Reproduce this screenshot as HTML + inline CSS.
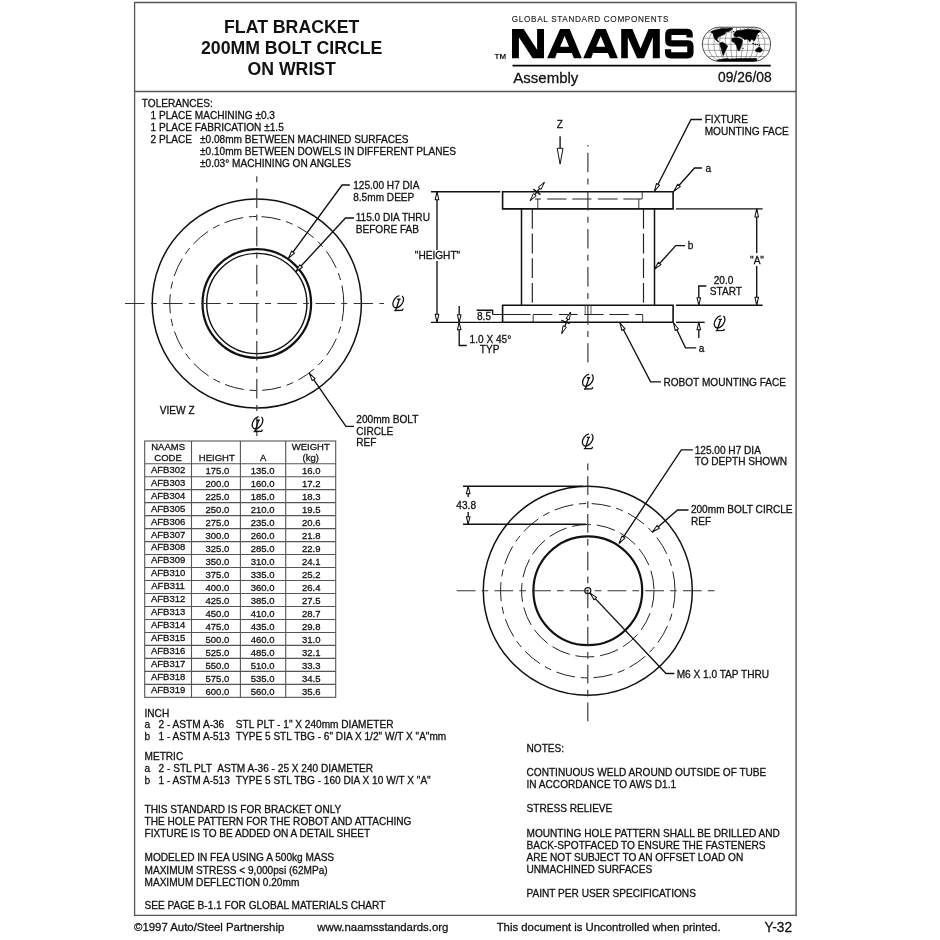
<!DOCTYPE html>
<html><head><meta charset="utf-8"><style>
html,body{margin:0;padding:0;background:#fff;}
svg{display:block;will-change:transform;}
text{font-family:"Liberation Sans", sans-serif;}
text.r{stroke:#111;stroke-width:0.28px;}
</style></head><body>
<svg width="940" height="940" viewBox="0 0 940 940">
<rect width="940" height="940" fill="#fff"/>
<line x1="134.5" y1="2.5" x2="796.5" y2="2.5" stroke="#555" stroke-width="1.3"/>
<line x1="134.6" y1="1.9" x2="134.6" y2="915.9" stroke="#555" stroke-width="1.3"/>
<line x1="796.1" y1="1.9" x2="796.1" y2="915.9" stroke="#777" stroke-width="1.8"/>
<line x1="134" y1="915.3" x2="797" y2="915.3" stroke="#555" stroke-width="1.3"/>
<line x1="134.5" y1="91.5" x2="796.5" y2="91.5" stroke="#555" stroke-width="1.3" stroke-linecap="butt"/>
<text x="291.7" y="32.9" font-size="17.7" text-anchor="middle" font-weight="bold" fill="#111"  xml:space="preserve">FLAT BRACKET</text>
<text x="291.7" y="53.5" font-size="17.7" text-anchor="middle" font-weight="bold" fill="#111"  xml:space="preserve">200MM BOLT CIRCLE</text>
<text x="291.7" y="74.9" font-size="17.7" text-anchor="middle" font-weight="bold" fill="#111"  xml:space="preserve">ON WRIST</text>
<text x="511.8" y="21.6" font-size="8.2" text-anchor="start" font-weight="normal" fill="#1a1a1a" textLength="156.6" lengthAdjust="spacing" class="n" stroke="#1a1a1a" stroke-width="0.12" xml:space="preserve">GLOBAL STANDARD COMPONENTS</text>
<path d="M512,58.2 L512,29 L523.7,29 L537.1,49.8 L537.1,29 L544,29 L544,58.2 L532.6,58.2 L518.9,37.2 L518.9,58.2 Z M547.1,58.2 L560.1,29 L569.7,29 L581.8,58.2 L573.9,58.2 L571.8,52.9 L556.9,52.9 L555.1,58.2 Z M560.1,46.8 L569.1,46.8 L564.6,35.9 Z M583.2,58.2 L596.2,29 L605.8,29 L617.9,58.2 L610.0,58.2 L607.9,52.9 L593.0,52.9 L591.2,58.2 Z M596.2,46.8 L605.2,46.8 L600.7,35.9 Z M621.2,58.2 L621.2,29 L632.4,29 L640.5,48.4 L648.6,29 L659.8,29 L659.8,58.2 L652.8,58.2 L652.8,37.2 L644.1,58.2 L637.1,58.2 L627.8,37.2 L627.8,58.2 Z" fill="#000" fill-rule="evenodd"/>
<path d="M689.6,37.6 L689.6,34.6 Q689.6,31.8 686.8,31.8 L671.2,31.8 Q668.3,31.8 668.3,34.6 L668.3,40.6 Q668.3,43.4 671.1,43.4 L687.5,43.4 Q690.4,43.4 690.4,46.2 L690.4,52.6 Q690.4,55.3 687.6,55.3 L670.9,55.3 Q668.1,55.3 668.1,52.6 L668.1,49.3" fill="none" stroke="#000" stroke-width="6.3"/>
<text x="494.5" y="58.8" font-size="8.0" text-anchor="start" font-weight="bold" fill="#111"  xml:space="preserve">TM</text>
<line x1="512.5" y1="65.7" x2="770.7" y2="65.7" stroke="#000" stroke-width="1.8" stroke-linecap="butt"/>
<text x="513.3" y="83" font-size="15" text-anchor="start" font-weight="normal" fill="#111"  class="r" xml:space="preserve">Assembly</text>
<text x="771.7" y="81.7" font-size="13.8" text-anchor="end" font-weight="normal" fill="#111"  class="r" xml:space="preserve">09/26/08</text>
<clipPath id="gclip"><path d="M719.5,27.199999999999996 L753.5,27.199999999999996 A17.1,17.1 0 0 1 753.5,61.4 L719.5,61.4 A17.1,17.1 0 0 1 719.5,27.199999999999996 Z"/></clipPath><g clip-path="url(#gclip)"><line x1="700" y1="32.1" x2="773" y2="32.1" stroke="#555" stroke-width="0.5"/><line x1="700" y1="38.2" x2="773" y2="38.2" stroke="#555" stroke-width="0.5"/><line x1="700" y1="44.3" x2="773" y2="44.3" stroke="#555" stroke-width="0.5"/><line x1="700" y1="50.4" x2="773" y2="50.4" stroke="#555" stroke-width="0.5"/><line x1="700" y1="56.5" x2="773" y2="56.5" stroke="#555" stroke-width="0.5"/><path d="M722.33,27.199999999999996 A14.17,17.1 0 0 0 708.17,44.3 A14.17,17.1 0 0 0 722.33,61.4" stroke="#555" stroke-width="0.5" fill="none"/><path d="M725.17,27.199999999999996 A11.33,17.1 0 0 0 713.83,44.3 A11.33,17.1 0 0 0 725.17,61.4" stroke="#555" stroke-width="0.5" fill="none"/><path d="M728.00,27.199999999999996 A8.50,17.1 0 0 0 719.50,44.3 A8.50,17.1 0 0 0 728.00,61.4" stroke="#555" stroke-width="0.5" fill="none"/><path d="M730.83,27.199999999999996 A5.67,17.1 0 0 0 725.17,44.3 A5.67,17.1 0 0 0 730.83,61.4" stroke="#555" stroke-width="0.5" fill="none"/><path d="M733.67,27.199999999999996 A2.83,17.1 0 0 0 730.83,44.3 A2.83,17.1 0 0 0 733.67,61.4" stroke="#555" stroke-width="0.5" fill="none"/><line x1="736.5" y1="27.199999999999996" x2="736.5" y2="61.4" stroke="#555" stroke-width="0.5"/><path d="M739.33,27.199999999999996 A2.83,17.1 0 0 1 742.17,44.3 A2.83,17.1 0 0 1 739.33,61.4" stroke="#555" stroke-width="0.5" fill="none"/><path d="M742.17,27.199999999999996 A5.67,17.1 0 0 1 747.83,44.3 A5.67,17.1 0 0 1 742.17,61.4" stroke="#555" stroke-width="0.5" fill="none"/><path d="M745.00,27.199999999999996 A8.50,17.1 0 0 1 753.50,44.3 A8.50,17.1 0 0 1 745.00,61.4" stroke="#555" stroke-width="0.5" fill="none"/><path d="M747.83,27.199999999999996 A11.33,17.1 0 0 1 759.17,44.3 A11.33,17.1 0 0 1 747.83,61.4" stroke="#555" stroke-width="0.5" fill="none"/><path d="M750.67,27.199999999999996 A14.17,17.1 0 0 1 764.83,44.3 A14.17,17.1 0 0 1 750.67,61.4" stroke="#555" stroke-width="0.5" fill="none"/><path d="M710.7,31.9 L713.2,30.6 L716.9,29.7 L719.9,29.1 L722.8,28.5 L725.8,28.7 L727.7,28.4 L730.3,28.1 L732.6,28.4 L731.8,29.5 L729.6,31.0 L728.4,31.5 L725.8,31.7 L725.1,33.9 L723.6,34.7 L721.7,35.4 L719.9,36.2 L717.6,37.7 L716.9,39.1 L717.6,40.3 L718.8,41.4 L718.4,42.1 L716.1,40.3 L714.7,38.4 L713.5,36.2 L713.2,33.9 L711.7,32.4 Z" fill="#000" stroke="#000" stroke-width="0.6" stroke-linejoin="round"/><path d="M719.7,42.9 L722.6,42.3 L725.5,44.1 L727.6,45.9 L726.7,48.2 L725.0,51.1 L723.8,54.6 L723.2,55.6 L722.3,52.9 L721.4,48.8 L720.3,45.9 Z" fill="#000" stroke="#000" stroke-width="0.6" stroke-linejoin="round"/><path d="M733.6,34.8 L734.5,33.0 L736.7,30.8 L738.9,30.4 L743.4,29.9 L747.9,29.2 L752.3,29.7 L756.8,30.1 L760.8,30.8 L759.5,32.1 L757.7,33.0 L756.8,35.3 L755.9,37.5 L755.0,39.7 L754.1,41.1 L753.2,39.7 L751.4,39.3 L749.7,42.0 L748.8,40.2 L747.0,38.9 L744.7,39.7 L743.4,38.4 L741.2,36.9 L738.9,36.6 L736.7,36.9 L734.5,36.4 Z" fill="#000" stroke="#000" stroke-width="0.6" stroke-linejoin="round"/><path d="M731.8,38.6 L734.5,37.7 L738.9,38.2 L741.6,39.3 L742.5,41.0 L741.9,43.5 L740.7,47.6 L739.0,51.1 L737.8,49.9 L736.7,45.9 L734.3,42.6 L731.9,41.4 Z" fill="#000" stroke="#000" stroke-width="0.6" stroke-linejoin="round"/><path d="M755.4,49.9 L757.1,48.2 L759.5,47.0 L761.8,48.8 L762.4,50.5 L760.1,52.3 L757.7,51.7 L756.0,51.7 Z" fill="#000" stroke="#000" stroke-width="0.6" stroke-linejoin="round"/><path d="M716.5,61.8 L717.3,59.9 L722,59.2 L726.1,58.6 L730,59.0 L740,58.5 L750,58.4 L756.5,58.6 L757,61.8 Z" fill="#000" stroke="#000" stroke-width="0.6" stroke-linejoin="round"/><circle cx="753.1" cy="43.6" r="0.8" fill="#000"/><circle cx="755.2" cy="44.4" r="0.8" fill="#000"/><circle cx="757.4" cy="44.5" r="0.7" fill="#000"/><circle cx="759.5" cy="45.3" r="0.7" fill="#000"/><circle cx="743.1" cy="48.3" r="0.6" fill="#000"/><circle cx="758.6" cy="35.6" r="0.6" fill="#000"/><circle cx="733.6" cy="31.6" r="0.7" fill="#000"/></g><path d="M719.5,27.199999999999996 L753.5,27.199999999999996 A17.1,17.1 0 0 1 753.5,61.4 L719.5,61.4 A17.1,17.1 0 0 1 719.5,27.199999999999996 Z" fill="none" stroke="#222" stroke-width="0.8"/>
<text x="141.8" y="106.5" font-size="10.1" text-anchor="start" font-weight="normal" fill="#111"  class="r" xml:space="preserve">TOLERANCES:</text>
<text x="150.5" y="118.6" font-size="10.1" text-anchor="start" font-weight="normal" fill="#111"  class="r" xml:space="preserve">1 PLACE MACHINING ±0.3</text>
<text x="150.5" y="130.7" font-size="10.1" text-anchor="start" font-weight="normal" fill="#111"  class="r" xml:space="preserve">1 PLACE FABRICATION ±1.5</text>
<text x="150.5" y="142.8" font-size="10.1" text-anchor="start" font-weight="normal" fill="#111"  class="r" xml:space="preserve">2 PLACE</text>
<text x="200" y="142.8" font-size="10.1" text-anchor="start" font-weight="normal" fill="#111"  class="r" xml:space="preserve">±0.08mm BETWEEN MACHINED SURFACES</text>
<text x="200" y="154.9" font-size="10.1" text-anchor="start" font-weight="normal" fill="#111"  class="r" xml:space="preserve">±0.10mm BETWEEN DOWELS IN DIFFERENT PLANES</text>
<text x="200" y="167.0" font-size="10.1" text-anchor="start" font-weight="normal" fill="#111"  class="r" xml:space="preserve">±0.03° MACHINING ON ANGLES</text>
<circle cx="256.8" cy="303.5" r="104.6" stroke="#111" stroke-width="1.5" fill="none"/>
<circle cx="256.8" cy="303.5" r="87.0" stroke="#222" stroke-width="1.0" fill="none" stroke-dasharray="19.2,5.7,7.2,5.7" stroke-dashoffset="1.6"/>
<circle cx="256.8" cy="303.5" r="54.3" stroke="#111" stroke-width="2.2" fill="none"/>
<circle cx="256.8" cy="303.5" r="50.1" stroke="#111" stroke-width="1.4" fill="none"/>
<line x1="125" y1="303.5" x2="384" y2="303.5" stroke="#333" stroke-width="1.15" stroke-linecap="butt" stroke-dasharray="19.5,6.3,6,6.3" stroke-dashoffset="0"/>
<line x1="256.8" y1="176.3" x2="256.8" y2="436" stroke="#333" stroke-width="1.15" stroke-linecap="butt" stroke-dasharray="19.5,6.3,6,6.3" stroke-dashoffset="25.8"/>
<g transform="translate(392.6,295.5) scale(1.0)" fill="none" stroke="#111"><ellipse cx="5.6" cy="6.15" rx="4.4" ry="6.9" transform="rotate(35 5.6 6.15)" stroke-dasharray="23.7,2.8,20" stroke-width="1.3"/><path d="M4.6,3.7 L7.9,3.7 M6.7,3.7 L3.1,14.9 M1.7,15.0 L9.6,14.8 Q10.2,14.4 10.4,13.2" stroke-width="1.35"/></g>
<g transform="translate(251.9,416.5) scale(1.0)" fill="none" stroke="#111"><ellipse cx="5.6" cy="6.15" rx="4.4" ry="6.9" transform="rotate(35 5.6 6.15)" stroke-dasharray="23.7,2.8,20" stroke-width="1.3"/><path d="M4.6,3.7 L7.9,3.7 M6.7,3.7 L3.1,14.9 M1.7,15.0 L9.6,14.8 Q10.2,14.4 10.4,13.2" stroke-width="1.35"/></g>
<text x="159.8" y="413.8" font-size="10.1" text-anchor="start" font-weight="normal" fill="#111"  class="r" xml:space="preserve">VIEW Z</text>
<path d="M349.8,185 L342.1,185 L288.6,258.1" stroke="#111" stroke-width="1.35" fill="none" stroke-linejoin="miter"/>
<path d="M291.58,250.98 L288.60,258.10 L294.48,253.11 Z" stroke="#111" stroke-width="1.05" fill="#fff" stroke-linejoin="round"/>
<text x="353.2" y="189.1" font-size="10.1" text-anchor="start" font-weight="normal" fill="#111"  class="r" xml:space="preserve">125.00 H7 DIA</text>
<text x="353.2" y="200.6" font-size="10.1" text-anchor="start" font-weight="normal" fill="#111"  class="r" xml:space="preserve">8.5mm DEEP</text>
<path d="M354,218 L345.5,218 L296,271.5" stroke="#111" stroke-width="1.35" fill="none" stroke-linejoin="miter"/>
<path d="M299.77,264.77 L296.00,271.50 L302.41,267.22 Z" stroke="#111" stroke-width="1.05" fill="#fff" stroke-linejoin="round"/>
<text x="355.7" y="221.4" font-size="10.1" text-anchor="start" font-weight="normal" fill="#111"  class="r" xml:space="preserve">115.0 DIA THRU</text>
<text x="355.7" y="233" font-size="10.1" text-anchor="start" font-weight="normal" fill="#111"  class="r" xml:space="preserve">BEFORE FAB</text>
<path d="M354,426.3 L345.9,426.3 L309.4,373.4" stroke="#111" stroke-width="1.35" fill="none" stroke-linejoin="miter"/>
<path d="M315.14,378.55 L309.40,373.40 L312.18,380.60 Z" stroke="#111" stroke-width="1.05" fill="#fff" stroke-linejoin="round"/>
<text x="356.3" y="422.6" font-size="10.1" text-anchor="start" font-weight="normal" fill="#111"  class="r" xml:space="preserve">200mm BOLT</text>
<text x="356.3" y="434.5" font-size="10.1" text-anchor="start" font-weight="normal" fill="#111"  class="r" xml:space="preserve">CIRCLE</text>
<text x="356.3" y="446" font-size="10.1" text-anchor="start" font-weight="normal" fill="#111"  class="r" xml:space="preserve">REF</text>
<path d="M502.6,191.7 L673.1,191.7 L673.1,208.9 L502.6,208.9 Z" stroke="#111" stroke-width="1.6" fill="none" stroke-linejoin="miter"/>
<path d="M502.6,305.2 L673.1,305.2 L673.1,322.3 L502.6,322.3 Z" stroke="#111" stroke-width="1.6" fill="none" stroke-linejoin="miter"/>
<line x1="521.5" y1="208.9" x2="521.5" y2="305.2" stroke="#111" stroke-width="1.5" stroke-linecap="butt"/>
<line x1="654.5" y1="208.9" x2="654.5" y2="305.2" stroke="#111" stroke-width="1.5" stroke-linecap="butt"/>
<line x1="532.3" y1="208.9" x2="532.3" y2="305.2" stroke="#222" stroke-width="1.15" stroke-linecap="butt" stroke-dasharray="19.8,4.9" stroke-dashoffset="0"/>
<line x1="643.5" y1="208.9" x2="643.5" y2="305.2" stroke="#222" stroke-width="1.15" stroke-linecap="butt" stroke-dasharray="19.8,4.9" stroke-dashoffset="0"/>
<line x1="587.9" y1="145" x2="587.9" y2="362.4" stroke="#333" stroke-width="1.15" stroke-linecap="butt" stroke-dasharray="19.5,6.3,6,6.3" stroke-dashoffset="30.3"/>
<line x1="535.1" y1="199" x2="642.3" y2="199" stroke="#222" stroke-width="1.15" stroke-linecap="butt" stroke-dasharray="5.8,6.3,19.2,5.9,19.2,6.4,19.8,5.7,18.5,10" stroke-dashoffset="0"/>
<line x1="537.8" y1="199" x2="537.8" y2="208.9" stroke="#222" stroke-width="0.9" stroke-linecap="butt"/>
<line x1="642.2" y1="191.7" x2="642.2" y2="199" stroke="#222" stroke-width="0.9" stroke-linecap="butt"/>
<line x1="638.8" y1="199" x2="638.8" y2="208.9" stroke="#222" stroke-width="0.9" stroke-linecap="butt"/>
<line x1="492.6" y1="314.5" x2="530.5" y2="314.5" stroke="#222" stroke-width="1.0" stroke-linecap="butt"/>
<line x1="533.2" y1="314.5" x2="642.7" y2="314.5" stroke="#222" stroke-width="1.15" stroke-linecap="butt" stroke-dasharray="19.1,6.6,18.6,6.7,19.3,5.9,19.3,6.7,7.3,10" stroke-dashoffset="0"/>
<line x1="533.2" y1="314.5" x2="533.2" y2="322.3" stroke="#222" stroke-width="0.9" stroke-linecap="butt"/>
<line x1="642.7" y1="314.5" x2="642.7" y2="322.3" stroke="#222" stroke-width="0.9" stroke-linecap="butt"/>
<line x1="585.2" y1="305.2" x2="585.2" y2="314.5" stroke="#333" stroke-width="0.8" stroke-linecap="butt"/>
<line x1="591" y1="305.2" x2="591" y2="314.5" stroke="#333" stroke-width="0.8" stroke-linecap="butt"/>
<path d="M476.6,310.2 L492.6,310.2 L492.6,314.5" stroke="#111" stroke-width="1.35" fill="none" stroke-linejoin="miter"/>
<text x="477" y="319.7" font-size="10.1" text-anchor="start" font-weight="normal" fill="#111"  class="r" xml:space="preserve">8.5</text>
<line x1="431" y1="191.7" x2="500.3" y2="191.7" stroke="#111" stroke-width="1.35" stroke-linecap="butt"/>
<line x1="431" y1="322.3" x2="502.6" y2="322.3" stroke="#111" stroke-width="1.3" stroke-linecap="butt"/>
<line x1="437" y1="191.7" x2="437" y2="250" stroke="#111" stroke-width="1.35" stroke-linecap="butt"/>
<line x1="437" y1="261" x2="437" y2="322.3" stroke="#111" stroke-width="1.35" stroke-linecap="butt"/>
<path d="M438.80,199.70 L437.00,191.70 L435.20,199.70 Z" stroke="#111" stroke-width="1.05" fill="#fff" stroke-linejoin="round"/>
<path d="M435.20,314.30 L437.00,322.30 L438.80,314.30 Z" stroke="#111" stroke-width="1.05" fill="#fff" stroke-linejoin="round"/>
<text x="437.5" y="258.5" font-size="10.1" text-anchor="middle" font-weight="normal" fill="#111"  class="r" xml:space="preserve">"HEIGHT"</text>
<line x1="459.2" y1="306" x2="459.2" y2="322.3" stroke="#111" stroke-width="1.35" stroke-linecap="butt"/>
<path d="M457.40,314.80 L459.20,322.30 L461.00,314.80 Z" stroke="#111" stroke-width="1.05" fill="#fff" stroke-linejoin="round"/>
<path d="M459.2,322.3 L459.2,345.5 L466.8,345.5" stroke="#111" stroke-width="1.35" fill="none" stroke-linejoin="miter"/>
<path d="M461.00,329.80 L459.20,322.30 L457.40,329.80 Z" stroke="#111" stroke-width="1.05" fill="#fff" stroke-linejoin="round"/>
<text x="469.6" y="343" font-size="10.1" text-anchor="start" font-weight="normal" fill="#111"  class="r" xml:space="preserve">1.0 X 45°</text>
<text x="479.8" y="353.4" font-size="10.1" text-anchor="start" font-weight="normal" fill="#111"  class="r" xml:space="preserve">TYP</text>
<text x="559.8" y="127.7" font-size="10.1" text-anchor="middle" font-weight="normal" fill="#111"  class="r" xml:space="preserve">Z</text>
<line x1="560.1" y1="136.3" x2="560.1" y2="148.3" stroke="#111" stroke-width="1.35" stroke-linecap="butt"/>
<path d="M557.2,148.3 L563,148.3 L560.1,164.1 Z" fill="#fff" stroke="#111" stroke-width="1.0"/>
<line x1="530.2" y1="200.6" x2="544.3" y2="182.4" stroke="#111" stroke-width="1.35" stroke-linecap="butt"/>
<path d="M533.37,193.57 L530.20,200.60 L536.22,195.77 Z" stroke="#111" stroke-width="1.0" fill="#fff" stroke-linejoin="round"/>
<path d="M541.13,189.43 L544.30,182.40 L538.28,187.23 Z" stroke="#111" stroke-width="1.0" fill="#fff" stroke-linejoin="round"/>
<line x1="533.3426591269109" y1="189.14403811480463" x2="540.457340873089" y2="194.65596188519538" stroke="#111" stroke-width="1.4" stroke-linecap="butt"/>
<line x1="561.8" y1="333.4" x2="570.6" y2="312.1" stroke="#111" stroke-width="1.35" stroke-linecap="butt"/>
<path d="M563.00,325.78 L561.80,333.40 L566.33,327.16 Z" stroke="#111" stroke-width="1.0" fill="#fff" stroke-linejoin="round"/>
<path d="M569.40,319.72 L570.60,312.10 L566.07,318.34 Z" stroke="#111" stroke-width="1.0" fill="#fff" stroke-linejoin="round"/>
<line x1="561.3409733717274" y1="320.2817166981784" x2="569.6590266282726" y2="323.7182833018216" stroke="#111" stroke-width="1.4" stroke-linecap="butt"/>
<line x1="676" y1="208.9" x2="762.6" y2="208.9" stroke="#111" stroke-width="1.35" stroke-linecap="butt"/>
<line x1="676" y1="305.2" x2="762.6" y2="305.2" stroke="#111" stroke-width="1.35" stroke-linecap="butt"/>
<line x1="756.7" y1="208.9" x2="756.7" y2="253" stroke="#111" stroke-width="1.35" stroke-linecap="butt"/>
<line x1="756.7" y1="266" x2="756.7" y2="305.2" stroke="#111" stroke-width="1.35" stroke-linecap="butt"/>
<path d="M758.50,216.90 L756.70,208.90 L754.90,216.90 Z" stroke="#111" stroke-width="1.05" fill="#fff" stroke-linejoin="round"/>
<path d="M754.90,297.20 L756.70,305.20 L758.50,297.20 Z" stroke="#111" stroke-width="1.05" fill="#fff" stroke-linejoin="round"/>
<text x="757" y="264.4" font-size="10.1" text-anchor="middle" font-weight="normal" fill="#111"  class="r" xml:space="preserve">"A"</text>
<path d="M706.4,286 L698.8,286 L698.8,305.2" stroke="#111" stroke-width="1.35" fill="none" stroke-linejoin="miter"/>
<path d="M697.00,297.70 L698.80,305.20 L700.60,297.70 Z" stroke="#111" stroke-width="1.05" fill="#fff" stroke-linejoin="round"/>
<text x="723.5" y="283.5" font-size="10.1" text-anchor="middle" font-weight="normal" fill="#111"  class="r" xml:space="preserve">20.0</text>
<text x="725.9" y="294.9" font-size="10.1" text-anchor="middle" font-weight="normal" fill="#111"  class="r" xml:space="preserve">START</text>
<line x1="676" y1="322.3" x2="704.7" y2="322.3" stroke="#111" stroke-width="1.35" stroke-linecap="butt"/>
<line x1="698.8" y1="322.3" x2="698.8" y2="338" stroke="#111" stroke-width="1.35" stroke-linecap="butt"/>
<path d="M700.60,329.80 L698.80,322.30 L697.00,329.80 Z" stroke="#111" stroke-width="1.05" fill="#fff" stroke-linejoin="round"/>
<g transform="translate(714,315.6) scale(1.0)" fill="none" stroke="#111"><ellipse cx="5.6" cy="6.15" rx="4.4" ry="6.9" transform="rotate(35 5.6 6.15)" stroke-dasharray="23.7,2.8,20" stroke-width="1.3"/><path d="M4.6,3.7 L7.9,3.7 M6.7,3.7 L3.1,14.9 M1.7,15.0 L9.6,14.8 Q10.2,14.4 10.4,13.2" stroke-width="1.35"/></g>
<g transform="translate(582.3,374) scale(1.0)" fill="none" stroke="#111"><ellipse cx="5.6" cy="6.15" rx="4.4" ry="6.9" transform="rotate(35 5.6 6.15)" stroke-dasharray="23.7,2.8,20" stroke-width="1.3"/><path d="M4.6,3.7 L7.9,3.7 M6.7,3.7 L3.1,14.9 M1.7,15.0 L9.6,14.8 Q10.2,14.4 10.4,13.2" stroke-width="1.35"/></g>
<path d="M702,119.5 L691,119.5 L654.6,191" stroke="#111" stroke-width="1.35" fill="none" stroke-linejoin="miter"/>
<path d="M656.40,183.50 L654.60,191.00 L659.61,185.13 Z" stroke="#111" stroke-width="1.05" fill="#fff" stroke-linejoin="round"/>
<text x="704.7" y="122.9" font-size="10.1" text-anchor="start" font-weight="normal" fill="#111"  class="r" xml:space="preserve">FIXTURE</text>
<text x="704.7" y="134.8" font-size="10.1" text-anchor="start" font-weight="normal" fill="#111"  class="r" xml:space="preserve">MOUNTING FACE</text>
<path d="M702,168 L694.5,168 L674,191" stroke="#111" stroke-width="1.35" fill="none" stroke-linejoin="miter"/>
<path d="M677.65,184.20 L674.00,191.00 L680.33,186.60 Z" stroke="#111" stroke-width="1.05" fill="#fff" stroke-linejoin="round"/>
<text x="705.5" y="172.2" font-size="10.1" text-anchor="start" font-weight="normal" fill="#111"  class="r" xml:space="preserve">a</text>
<path d="M685.1,245.6 L675.8,245.6 L654.6,269" stroke="#111" stroke-width="1.35" fill="none" stroke-linejoin="miter"/>
<path d="M658.30,262.23 L654.60,269.00 L660.97,264.65 Z" stroke="#111" stroke-width="1.05" fill="#fff" stroke-linejoin="round"/>
<text x="687.7" y="249" font-size="10.1" text-anchor="start" font-weight="normal" fill="#111"  class="r" xml:space="preserve">b</text>
<path d="M620,323 L650.6,381.8 L661,381.8" stroke="#111" stroke-width="1.35" fill="none" stroke-linejoin="miter"/>
<path d="M625.06,328.82 L620.00,323.00 L621.87,330.48 Z" stroke="#111" stroke-width="1.05" fill="#fff" stroke-linejoin="round"/>
<text x="663.4" y="385.9" font-size="10.1" text-anchor="start" font-weight="normal" fill="#111"  class="r" xml:space="preserve">ROBOT MOUNTING FACE</text>
<path d="M673.6,323 L685.5,347.8 L696.2,347.8" stroke="#111" stroke-width="1.35" fill="none" stroke-linejoin="miter"/>
<path d="M678.47,328.98 L673.60,323.00 L675.22,330.54 Z" stroke="#111" stroke-width="1.05" fill="#fff" stroke-linejoin="round"/>
<text x="698.8" y="351.6" font-size="10.1" text-anchor="start" font-weight="normal" fill="#111"  class="r" xml:space="preserve">a</text>
<rect x="144.7" y="441.0" width="191.0" height="256.34000000000003" fill="none" stroke="#555" stroke-width="1.1"/>
<line x1="191.5" y1="441.0" x2="191.5" y2="697.34" stroke="#555" stroke-width="1.1" stroke-linecap="butt"/>
<line x1="240.4" y1="441.0" x2="240.4" y2="697.34" stroke="#555" stroke-width="1.1" stroke-linecap="butt"/>
<line x1="285.7" y1="441.0" x2="285.7" y2="697.34" stroke="#555" stroke-width="1.1" stroke-linecap="butt"/>
<line x1="144.7" y1="463.7" x2="335.7" y2="463.7" stroke="#555" stroke-width="1.1" stroke-linecap="butt"/>
<line x1="144.7" y1="476.68" x2="335.7" y2="476.68" stroke="#555" stroke-width="1.1" stroke-linecap="butt"/>
<line x1="144.7" y1="489.65999999999997" x2="335.7" y2="489.65999999999997" stroke="#555" stroke-width="1.1" stroke-linecap="butt"/>
<line x1="144.7" y1="502.64" x2="335.7" y2="502.64" stroke="#555" stroke-width="1.1" stroke-linecap="butt"/>
<line x1="144.7" y1="515.62" x2="335.7" y2="515.62" stroke="#555" stroke-width="1.1" stroke-linecap="butt"/>
<line x1="144.7" y1="528.6" x2="335.7" y2="528.6" stroke="#555" stroke-width="1.1" stroke-linecap="butt"/>
<line x1="144.7" y1="541.5799999999999" x2="335.7" y2="541.5799999999999" stroke="#555" stroke-width="1.1" stroke-linecap="butt"/>
<line x1="144.7" y1="554.56" x2="335.7" y2="554.56" stroke="#555" stroke-width="1.1" stroke-linecap="butt"/>
<line x1="144.7" y1="567.54" x2="335.7" y2="567.54" stroke="#555" stroke-width="1.1" stroke-linecap="butt"/>
<line x1="144.7" y1="580.52" x2="335.7" y2="580.52" stroke="#555" stroke-width="1.1" stroke-linecap="butt"/>
<line x1="144.7" y1="593.5" x2="335.7" y2="593.5" stroke="#555" stroke-width="1.1" stroke-linecap="butt"/>
<line x1="144.7" y1="606.48" x2="335.7" y2="606.48" stroke="#555" stroke-width="1.1" stroke-linecap="butt"/>
<line x1="144.7" y1="619.46" x2="335.7" y2="619.46" stroke="#555" stroke-width="1.1" stroke-linecap="butt"/>
<line x1="144.7" y1="632.44" x2="335.7" y2="632.44" stroke="#555" stroke-width="1.1" stroke-linecap="butt"/>
<line x1="144.7" y1="645.42" x2="335.7" y2="645.42" stroke="#555" stroke-width="1.1" stroke-linecap="butt"/>
<line x1="144.7" y1="658.4" x2="335.7" y2="658.4" stroke="#555" stroke-width="1.1" stroke-linecap="butt"/>
<line x1="144.7" y1="671.38" x2="335.7" y2="671.38" stroke="#555" stroke-width="1.1" stroke-linecap="butt"/>
<line x1="144.7" y1="684.36" x2="335.7" y2="684.36" stroke="#555" stroke-width="1.1" stroke-linecap="butt"/>
<text x="168.1" y="450.3" font-size="9.5" text-anchor="middle" font-weight="normal" fill="#111"  class="r" xml:space="preserve">NAAMS</text>
<text x="168.1" y="461.2" font-size="9.5" text-anchor="middle" font-weight="normal" fill="#111"  class="r" xml:space="preserve">CODE</text>
<text x="216.75" y="461.4" font-size="9.5" text-anchor="middle" font-weight="normal" fill="#111"  class="r" xml:space="preserve">HEIGHT</text>
<text x="263.05" y="461.4" font-size="9.5" text-anchor="middle" font-weight="normal" fill="#111"  class="r" xml:space="preserve">A</text>
<text x="310.7" y="450.3" font-size="9.5" text-anchor="middle" font-weight="normal" fill="#111"  class="r" xml:space="preserve">WEIGHT</text>
<text x="310.7" y="461.4" font-size="9.5" text-anchor="middle" font-weight="normal" fill="#111"  class="r" xml:space="preserve">(kg)</text>
<text x="168.1" y="472.59999999999997" font-size="9.5" text-anchor="middle" font-weight="normal" fill="#111"  class="r" xml:space="preserve">AFB302</text>
<text x="217.45" y="474.0" font-size="9.5" text-anchor="middle" font-weight="normal" fill="#111"  class="r" xml:space="preserve">175.0</text>
<text x="262.55" y="474.0" font-size="9.5" text-anchor="middle" font-weight="normal" fill="#111"  class="r" xml:space="preserve">135.0</text>
<text x="311.3" y="474.0" font-size="9.5" text-anchor="middle" font-weight="normal" fill="#111"  class="r" xml:space="preserve">16.0</text>
<text x="168.1" y="485.58" font-size="9.5" text-anchor="middle" font-weight="normal" fill="#111"  class="r" xml:space="preserve">AFB303</text>
<text x="217.45" y="486.98" font-size="9.5" text-anchor="middle" font-weight="normal" fill="#111"  class="r" xml:space="preserve">200.0</text>
<text x="262.55" y="486.98" font-size="9.5" text-anchor="middle" font-weight="normal" fill="#111"  class="r" xml:space="preserve">160.0</text>
<text x="311.3" y="486.98" font-size="9.5" text-anchor="middle" font-weight="normal" fill="#111"  class="r" xml:space="preserve">17.2</text>
<text x="168.1" y="498.55999999999995" font-size="9.5" text-anchor="middle" font-weight="normal" fill="#111"  class="r" xml:space="preserve">AFB304</text>
<text x="217.45" y="499.96" font-size="9.5" text-anchor="middle" font-weight="normal" fill="#111"  class="r" xml:space="preserve">225.0</text>
<text x="262.55" y="499.96" font-size="9.5" text-anchor="middle" font-weight="normal" fill="#111"  class="r" xml:space="preserve">185.0</text>
<text x="311.3" y="499.96" font-size="9.5" text-anchor="middle" font-weight="normal" fill="#111"  class="r" xml:space="preserve">18.3</text>
<text x="168.1" y="511.53999999999996" font-size="9.5" text-anchor="middle" font-weight="normal" fill="#111"  class="r" xml:space="preserve">AFB305</text>
<text x="217.45" y="512.9399999999999" font-size="9.5" text-anchor="middle" font-weight="normal" fill="#111"  class="r" xml:space="preserve">250.0</text>
<text x="262.55" y="512.9399999999999" font-size="9.5" text-anchor="middle" font-weight="normal" fill="#111"  class="r" xml:space="preserve">210.0</text>
<text x="311.3" y="512.9399999999999" font-size="9.5" text-anchor="middle" font-weight="normal" fill="#111"  class="r" xml:space="preserve">19.5</text>
<text x="168.1" y="524.52" font-size="9.5" text-anchor="middle" font-weight="normal" fill="#111"  class="r" xml:space="preserve">AFB306</text>
<text x="217.45" y="525.92" font-size="9.5" text-anchor="middle" font-weight="normal" fill="#111"  class="r" xml:space="preserve">275.0</text>
<text x="262.55" y="525.92" font-size="9.5" text-anchor="middle" font-weight="normal" fill="#111"  class="r" xml:space="preserve">235.0</text>
<text x="311.3" y="525.92" font-size="9.5" text-anchor="middle" font-weight="normal" fill="#111"  class="r" xml:space="preserve">20.6</text>
<text x="168.1" y="537.5" font-size="9.5" text-anchor="middle" font-weight="normal" fill="#111"  class="r" xml:space="preserve">AFB307</text>
<text x="217.45" y="538.9" font-size="9.5" text-anchor="middle" font-weight="normal" fill="#111"  class="r" xml:space="preserve">300.0</text>
<text x="262.55" y="538.9" font-size="9.5" text-anchor="middle" font-weight="normal" fill="#111"  class="r" xml:space="preserve">260.0</text>
<text x="311.3" y="538.9" font-size="9.5" text-anchor="middle" font-weight="normal" fill="#111"  class="r" xml:space="preserve">21.8</text>
<text x="168.1" y="550.4799999999999" font-size="9.5" text-anchor="middle" font-weight="normal" fill="#111"  class="r" xml:space="preserve">AFB308</text>
<text x="217.45" y="551.8799999999999" font-size="9.5" text-anchor="middle" font-weight="normal" fill="#111"  class="r" xml:space="preserve">325.0</text>
<text x="262.55" y="551.8799999999999" font-size="9.5" text-anchor="middle" font-weight="normal" fill="#111"  class="r" xml:space="preserve">285.0</text>
<text x="311.3" y="551.8799999999999" font-size="9.5" text-anchor="middle" font-weight="normal" fill="#111"  class="r" xml:space="preserve">22.9</text>
<text x="168.1" y="563.4599999999999" font-size="9.5" text-anchor="middle" font-weight="normal" fill="#111"  class="r" xml:space="preserve">AFB309</text>
<text x="217.45" y="564.8599999999999" font-size="9.5" text-anchor="middle" font-weight="normal" fill="#111"  class="r" xml:space="preserve">350.0</text>
<text x="262.55" y="564.8599999999999" font-size="9.5" text-anchor="middle" font-weight="normal" fill="#111"  class="r" xml:space="preserve">310.0</text>
<text x="311.3" y="564.8599999999999" font-size="9.5" text-anchor="middle" font-weight="normal" fill="#111"  class="r" xml:space="preserve">24.1</text>
<text x="168.1" y="576.4399999999999" font-size="9.5" text-anchor="middle" font-weight="normal" fill="#111"  class="r" xml:space="preserve">AFB310</text>
<text x="217.45" y="577.8399999999999" font-size="9.5" text-anchor="middle" font-weight="normal" fill="#111"  class="r" xml:space="preserve">375.0</text>
<text x="262.55" y="577.8399999999999" font-size="9.5" text-anchor="middle" font-weight="normal" fill="#111"  class="r" xml:space="preserve">335.0</text>
<text x="311.3" y="577.8399999999999" font-size="9.5" text-anchor="middle" font-weight="normal" fill="#111"  class="r" xml:space="preserve">25.2</text>
<text x="168.1" y="589.42" font-size="9.5" text-anchor="middle" font-weight="normal" fill="#111"  class="r" xml:space="preserve">AFB311</text>
<text x="217.45" y="590.8199999999999" font-size="9.5" text-anchor="middle" font-weight="normal" fill="#111"  class="r" xml:space="preserve">400.0</text>
<text x="262.55" y="590.8199999999999" font-size="9.5" text-anchor="middle" font-weight="normal" fill="#111"  class="r" xml:space="preserve">360.0</text>
<text x="311.3" y="590.8199999999999" font-size="9.5" text-anchor="middle" font-weight="normal" fill="#111"  class="r" xml:space="preserve">26.4</text>
<text x="168.1" y="602.4" font-size="9.5" text-anchor="middle" font-weight="normal" fill="#111"  class="r" xml:space="preserve">AFB312</text>
<text x="217.45" y="603.8" font-size="9.5" text-anchor="middle" font-weight="normal" fill="#111"  class="r" xml:space="preserve">425.0</text>
<text x="262.55" y="603.8" font-size="9.5" text-anchor="middle" font-weight="normal" fill="#111"  class="r" xml:space="preserve">385.0</text>
<text x="311.3" y="603.8" font-size="9.5" text-anchor="middle" font-weight="normal" fill="#111"  class="r" xml:space="preserve">27.5</text>
<text x="168.1" y="615.38" font-size="9.5" text-anchor="middle" font-weight="normal" fill="#111"  class="r" xml:space="preserve">AFB313</text>
<text x="217.45" y="616.78" font-size="9.5" text-anchor="middle" font-weight="normal" fill="#111"  class="r" xml:space="preserve">450.0</text>
<text x="262.55" y="616.78" font-size="9.5" text-anchor="middle" font-weight="normal" fill="#111"  class="r" xml:space="preserve">410.0</text>
<text x="311.3" y="616.78" font-size="9.5" text-anchor="middle" font-weight="normal" fill="#111"  class="r" xml:space="preserve">28.7</text>
<text x="168.1" y="628.36" font-size="9.5" text-anchor="middle" font-weight="normal" fill="#111"  class="r" xml:space="preserve">AFB314</text>
<text x="217.45" y="629.76" font-size="9.5" text-anchor="middle" font-weight="normal" fill="#111"  class="r" xml:space="preserve">475.0</text>
<text x="262.55" y="629.76" font-size="9.5" text-anchor="middle" font-weight="normal" fill="#111"  class="r" xml:space="preserve">435.0</text>
<text x="311.3" y="629.76" font-size="9.5" text-anchor="middle" font-weight="normal" fill="#111"  class="r" xml:space="preserve">29.8</text>
<text x="168.1" y="641.34" font-size="9.5" text-anchor="middle" font-weight="normal" fill="#111"  class="r" xml:space="preserve">AFB315</text>
<text x="217.45" y="642.74" font-size="9.5" text-anchor="middle" font-weight="normal" fill="#111"  class="r" xml:space="preserve">500.0</text>
<text x="262.55" y="642.74" font-size="9.5" text-anchor="middle" font-weight="normal" fill="#111"  class="r" xml:space="preserve">460.0</text>
<text x="311.3" y="642.74" font-size="9.5" text-anchor="middle" font-weight="normal" fill="#111"  class="r" xml:space="preserve">31.0</text>
<text x="168.1" y="654.3199999999999" font-size="9.5" text-anchor="middle" font-weight="normal" fill="#111"  class="r" xml:space="preserve">AFB316</text>
<text x="217.45" y="655.7199999999999" font-size="9.5" text-anchor="middle" font-weight="normal" fill="#111"  class="r" xml:space="preserve">525.0</text>
<text x="262.55" y="655.7199999999999" font-size="9.5" text-anchor="middle" font-weight="normal" fill="#111"  class="r" xml:space="preserve">485.0</text>
<text x="311.3" y="655.7199999999999" font-size="9.5" text-anchor="middle" font-weight="normal" fill="#111"  class="r" xml:space="preserve">32.1</text>
<text x="168.1" y="667.3" font-size="9.5" text-anchor="middle" font-weight="normal" fill="#111"  class="r" xml:space="preserve">AFB317</text>
<text x="217.45" y="668.6999999999999" font-size="9.5" text-anchor="middle" font-weight="normal" fill="#111"  class="r" xml:space="preserve">550.0</text>
<text x="262.55" y="668.6999999999999" font-size="9.5" text-anchor="middle" font-weight="normal" fill="#111"  class="r" xml:space="preserve">510.0</text>
<text x="311.3" y="668.6999999999999" font-size="9.5" text-anchor="middle" font-weight="normal" fill="#111"  class="r" xml:space="preserve">33.3</text>
<text x="168.1" y="680.28" font-size="9.5" text-anchor="middle" font-weight="normal" fill="#111"  class="r" xml:space="preserve">AFB318</text>
<text x="217.45" y="681.68" font-size="9.5" text-anchor="middle" font-weight="normal" fill="#111"  class="r" xml:space="preserve">575.0</text>
<text x="262.55" y="681.68" font-size="9.5" text-anchor="middle" font-weight="normal" fill="#111"  class="r" xml:space="preserve">535.0</text>
<text x="311.3" y="681.68" font-size="9.5" text-anchor="middle" font-weight="normal" fill="#111"  class="r" xml:space="preserve">34.5</text>
<text x="168.1" y="693.26" font-size="9.5" text-anchor="middle" font-weight="normal" fill="#111"  class="r" xml:space="preserve">AFB319</text>
<text x="217.45" y="694.66" font-size="9.5" text-anchor="middle" font-weight="normal" fill="#111"  class="r" xml:space="preserve">600.0</text>
<text x="262.55" y="694.66" font-size="9.5" text-anchor="middle" font-weight="normal" fill="#111"  class="r" xml:space="preserve">560.0</text>
<text x="311.3" y="694.66" font-size="9.5" text-anchor="middle" font-weight="normal" fill="#111"  class="r" xml:space="preserve">35.6</text>
<circle cx="587.8" cy="590.7" r="104.5" stroke="#111" stroke-width="1.5" fill="none"/>
<circle cx="587.8" cy="590.7" r="87.2" stroke="#222" stroke-width="1.0" fill="none" stroke-dasharray="19.2,5.7,7.2,5.7" stroke-dashoffset="1.6"/>
<circle cx="587.8" cy="590.7" r="66.2" stroke="#222" stroke-width="1.0" fill="none" stroke-dasharray="18.9,5.9" stroke-dashoffset="1.9"/>
<circle cx="587.8" cy="590.7" r="54.4" stroke="#111" stroke-width="2.2" fill="none"/>
<circle cx="587.8" cy="590.7" r="3.0" stroke="#111" stroke-width="1.2" fill="none"/>
<line x1="456.7" y1="590.7" x2="716" y2="590.7" stroke="#333" stroke-width="1.15" stroke-linecap="butt" stroke-dasharray="18.8,6.1,6.7,6.1" stroke-dashoffset="0"/>
<line x1="587.8" y1="463.5" x2="587.8" y2="722.3" stroke="#333" stroke-width="1.15" stroke-linecap="butt" stroke-dasharray="18.8,6.1,6.7,6.1" stroke-dashoffset="24.9"/>
<g transform="translate(582.1,433.7) scale(1.0)" fill="none" stroke="#111"><ellipse cx="5.6" cy="6.15" rx="4.4" ry="6.9" transform="rotate(35 5.6 6.15)" stroke-dasharray="23.7,2.8,20" stroke-width="1.3"/><path d="M4.6,3.7 L7.9,3.7 M6.7,3.7 L3.1,14.9 M1.7,15.0 L9.6,14.8 Q10.2,14.4 10.4,13.2" stroke-width="1.35"/></g>
<line x1="463" y1="486.2" x2="583" y2="486.2" stroke="#111" stroke-width="1.35" stroke-linecap="butt"/>
<line x1="463" y1="524.2" x2="586.2" y2="524.2" stroke="#111" stroke-width="1.35" stroke-linecap="butt"/>
<line x1="468.2" y1="486.2" x2="468.2" y2="497" stroke="#111" stroke-width="1.35" stroke-linecap="butt"/>
<line x1="468.2" y1="512" x2="468.2" y2="524.2" stroke="#111" stroke-width="1.35" stroke-linecap="butt"/>
<path d="M470.00,493.70 L468.20,486.20 L466.40,493.70 Z" stroke="#111" stroke-width="1.05" fill="#fff" stroke-linejoin="round"/>
<path d="M466.40,516.70 L468.20,524.20 L470.00,516.70 Z" stroke="#111" stroke-width="1.05" fill="#fff" stroke-linejoin="round"/>
<text x="466.2" y="508.9" font-size="10.1" text-anchor="middle" font-weight="normal" fill="#111"  class="r" xml:space="preserve">43.8</text>
<path d="M692.8,449.9 L681.3,449.9 L619.2,543.3" stroke="#111" stroke-width="1.35" fill="none" stroke-linejoin="miter"/>
<path d="M621.85,536.06 L619.20,543.30 L624.85,538.05 Z" stroke="#111" stroke-width="1.05" fill="#fff" stroke-linejoin="round"/>
<text x="694.7" y="453.8" font-size="10.1" text-anchor="start" font-weight="normal" fill="#111"  class="r" xml:space="preserve">125.00 H7 DIA</text>
<text x="694.7" y="465.3" font-size="10.1" text-anchor="start" font-weight="normal" fill="#111"  class="r" xml:space="preserve">TO DEPTH SHOWN</text>
<path d="M688.5,510 L677.5,510 L652.6,531.8" stroke="#111" stroke-width="1.35" fill="none" stroke-linejoin="miter"/>
<path d="M657.06,525.51 L652.60,531.80 L659.43,528.21 Z" stroke="#111" stroke-width="1.05" fill="#fff" stroke-linejoin="round"/>
<text x="690.9" y="513.2" font-size="10.1" text-anchor="start" font-weight="normal" fill="#111"  class="r" xml:space="preserve">200mm BOLT CIRCLE</text>
<text x="690.9" y="525.3" font-size="10.1" text-anchor="start" font-weight="normal" fill="#111"  class="r" xml:space="preserve">REF</text>
<path d="M590.1,593.1 L666,673.5 L674.4,673.5" stroke="#111" stroke-width="1.35" fill="none" stroke-linejoin="miter"/>
<path d="M596.56,597.32 L590.10,593.10 L593.94,599.79 Z" stroke="#111" stroke-width="1.05" fill="#fff" stroke-linejoin="round"/>
<text x="676.7" y="678.3" font-size="10.1" text-anchor="start" font-weight="normal" fill="#111"  class="r" xml:space="preserve">M6 X 1.0 TAP THRU</text>
<text x="144.5" y="716.9" font-size="10.1" text-anchor="start" font-weight="normal" fill="#111"  class="r" xml:space="preserve">INCH</text>
<text x="144.5" y="728.0" font-size="10.1" text-anchor="start" font-weight="normal" fill="#111"  class="r" xml:space="preserve">a</text>
<text x="158.6" y="728.0" font-size="10.1" text-anchor="start" font-weight="normal" fill="#111"  class="r" xml:space="preserve">2 - ASTM A-36</text>
<text x="235.8" y="728.0" font-size="10.1" text-anchor="start" font-weight="normal" fill="#111"  class="r" xml:space="preserve">STL PLT - 1" X 240mm DIAMETER</text>
<text x="144.5" y="740.3" font-size="10.1" text-anchor="start" font-weight="normal" fill="#111"  class="r" xml:space="preserve">b</text>
<text x="158.6" y="740.3" font-size="10.1" text-anchor="start" font-weight="normal" fill="#111"  class="r" xml:space="preserve">1 - ASTM A-513</text>
<text x="235.8" y="740.3" font-size="10.1" text-anchor="start" font-weight="normal" fill="#111"  class="r" xml:space="preserve">TYPE 5 STL TBG - 6" DIA X 1/2" W/T X "A"mm</text>
<text x="144.5" y="759.7" font-size="10.1" text-anchor="start" font-weight="normal" fill="#111"  class="r" xml:space="preserve">METRIC</text>
<text x="144.5" y="772" font-size="10.1" text-anchor="start" font-weight="normal" fill="#111"  class="r" xml:space="preserve">a</text>
<text x="158.6" y="772" font-size="10.1" text-anchor="start" font-weight="normal" fill="#111"  class="r" xml:space="preserve">2 - STL PLT</text>
<text x="217.2" y="772" font-size="10.1" text-anchor="start" font-weight="normal" fill="#111"  class="r" xml:space="preserve">ASTM A-36 - 25 X 240 DIAMETER</text>
<text x="144.5" y="784.2" font-size="10.1" text-anchor="start" font-weight="normal" fill="#111"  class="r" xml:space="preserve">b</text>
<text x="158.6" y="784.2" font-size="10.1" text-anchor="start" font-weight="normal" fill="#111"  class="r" xml:space="preserve">1 - ASTM A-513</text>
<text x="235.8" y="784.2" font-size="10.1" text-anchor="start" font-weight="normal" fill="#111"  class="r" xml:space="preserve">TYPE 5 STL TBG - 160 DIA X 10 W/T X "A"</text>
<text x="144.5" y="812.5" font-size="10.1" text-anchor="start" font-weight="normal" fill="#111"  class="r" xml:space="preserve">THIS STANDARD IS FOR BRACKET ONLY</text>
<text x="144.5" y="825.0" font-size="10.1" text-anchor="start" font-weight="normal" fill="#111"  class="r" xml:space="preserve">THE HOLE PATTERN FOR THE ROBOT AND ATTACHING</text>
<text x="144.5" y="837.0" font-size="10.1" text-anchor="start" font-weight="normal" fill="#111"  class="r" xml:space="preserve">FIXTURE IS TO BE ADDED ON A DETAIL SHEET</text>
<text x="144.5" y="861.4" font-size="10.1" text-anchor="start" font-weight="normal" fill="#111"  class="r" xml:space="preserve">MODELED IN FEA USING A 500kg MASS</text>
<text x="144.5" y="874.0" font-size="10.1" text-anchor="start" font-weight="normal" fill="#111"  class="r" xml:space="preserve">MAXIMUM STRESS &lt; 9,000psi (62MPa)</text>
<text x="144.5" y="885.9" font-size="10.1" text-anchor="start" font-weight="normal" fill="#111"  class="r" xml:space="preserve">MAXIMUM DEFLECTION 0.20mm</text>
<text x="144.5" y="909" font-size="10.1" text-anchor="start" font-weight="normal" fill="#111"  class="r" xml:space="preserve">SEE PAGE B-1.1 FOR GLOBAL MATERIALS CHART</text>
<text x="526.5" y="751.5" font-size="10.1" text-anchor="start" font-weight="normal" fill="#111"  class="r" xml:space="preserve">NOTES:</text>
<text x="526.5" y="775.9" font-size="10.1" text-anchor="start" font-weight="normal" fill="#111"  class="r" xml:space="preserve">CONTINUOUS WELD AROUND OUTSIDE OF TUBE</text>
<text x="526.5" y="788.1" font-size="10.1" text-anchor="start" font-weight="normal" fill="#111"  class="r" xml:space="preserve">IN ACCORDANCE TO AWS D1.1</text>
<text x="526.5" y="812" font-size="10.1" text-anchor="start" font-weight="normal" fill="#111"  class="r" xml:space="preserve">STRESS RELIEVE</text>
<text x="526.5" y="836.6" font-size="10.1" text-anchor="start" font-weight="normal" fill="#111"  class="r" xml:space="preserve">MOUNTING HOLE PATTERN SHALL BE DRILLED AND</text>
<text x="526.5" y="848.7" font-size="10.1" text-anchor="start" font-weight="normal" fill="#111"  class="r" xml:space="preserve">BACK-SPOTFACED TO ENSURE THE FASTENERS</text>
<text x="526.5" y="860.8" font-size="10.1" text-anchor="start" font-weight="normal" fill="#111"  class="r" xml:space="preserve">ARE NOT SUBJECT TO AN OFFSET LOAD ON</text>
<text x="526.5" y="873.3" font-size="10.1" text-anchor="start" font-weight="normal" fill="#111"  class="r" xml:space="preserve">UNMACHINED SURFACES</text>
<text x="526.5" y="897.2" font-size="10.1" text-anchor="start" font-weight="normal" fill="#111"  class="r" xml:space="preserve">PAINT PER USER SPECIFICATIONS</text>
<text x="134" y="930.5" font-size="11.4" text-anchor="start" font-weight="normal" fill="#111"  class="r" xml:space="preserve">©1997 Auto/Steel Partnership</text>
<text x="317.3" y="930.5" font-size="11.4" text-anchor="start" font-weight="normal" fill="#111"  class="r" xml:space="preserve">www.naamsstandards.org</text>
<text x="496.7" y="930.5" font-size="11.35" text-anchor="start" font-weight="normal" fill="#111"  class="r" xml:space="preserve">This document is Uncontrolled when printed.</text>
<text x="792" y="931.8" font-size="14.5" text-anchor="end" font-weight="normal" fill="#111" textLength="27.6" lengthAdjust="spacingAndGlyphs"  class="r" xml:space="preserve">Y-32</text>
</svg></body></html>
